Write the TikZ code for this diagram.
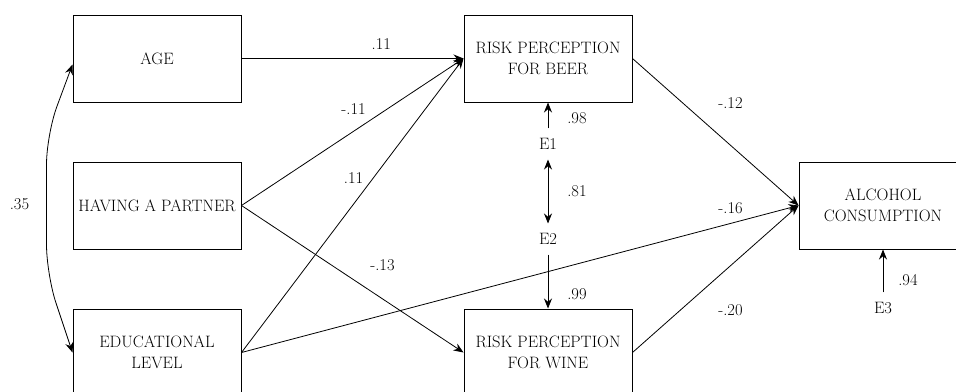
\documentclass[tikz,border=0pt]{standalone}
\usetikzlibrary{arrows.meta, positioning}

\begin{document}
\begin{tikzpicture}[x=1pt,y=-1pt,>={Stealth[length=10pt,width=8pt]},line width=0.8pt,
		font=\fontsize{16.5}{21}\selectfont,
		box/.style={draw,line width=1pt,minimum width=168pt,minimum height=87pt,align=center,inner sep=2pt},
		err/.style={inner sep=9.5pt}]
		\useasboundingbox (0,0) rectangle (956,391);

		\node[box]                    (age)     at (157,58.5)     {AGE};
		\node[box]                    (partner) [below=59pt of age]     {HAVING A PARTNER};
		\node[box]                    (edu)     [below=59pt of partner] {EDUCATIONAL\\LEVEL};
		\node[box]                    (beer)    [right=222pt of age]    {RISK PERCEPTION\\FOR BEER};
		\node[box]                    (wine)    [right=222pt of edu]    {RISK PERCEPTION\\FOR WINE};
		\node[box]                    (alc)     [right=557pt of partner] {ALCOHOL\\CONSUMPTION};

		\node[err] (e1) at (548,144) {E1};
		\node[err] (e2) at (548,239) {E2};
		\node[err] (e3) at (883,308) {E3};

		\path[->](age.east)     edge node[pos=.63,yshift=14pt]  {.11}  (beer.west);
		\path[->](partner.east) edge node[pos=.505,yshift=22pt] {-.11} (beer.west);
		\path[->](edu.east)     edge node[pos=.505,yshift=26pt] {.11}  (beer.west);
		\path[->](partner.east) edge node[pos=.635,yshift=34pt] {-.13} (wine.west);
		\path[->](edu.east)     edge node[pos=.878,yshift=15pt] {-.16} (alc.west);
		\path[->](beer.east)    edge node[pos=.59,yshift=42pt]  {-.12} (alc.west);
		\path[->](wine.east)    edge node[pos=.59,yshift=-44pt] {-.20} (alc.west);

		\path[->](e1)  edge node[pos=.4,xshift=29pt]  {.98} (beer.south);
		\path[<->](e1) edge node[pos=.5,xshift=29pt]  {.81} (e2);
		\path[->](e2)  edge node[pos=.74,xshift=29pt] {.99} (wine.north);
		\path[->](e3)  edge node[pos=.29,xshift=25pt] {.94} (alc.south);

		\draw[<->,rounded corners=30pt] ([yshift=-6pt]age.west) -- ++(-26,70)
			-- node[xshift=-27pt] {.35} ++(0,140) -- (edu.west);
	\end{tikzpicture}
\end{document}
